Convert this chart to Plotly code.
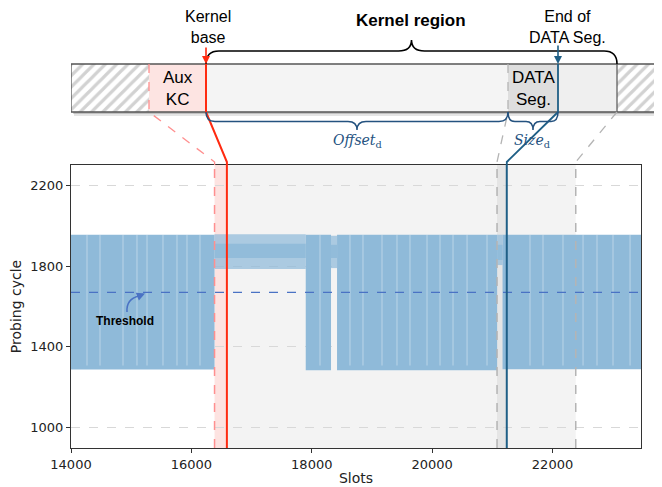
import plotly.graph_objects as go

# ---------------- data ----------------
x_min, x_max = 14000, 23470
y_min, y_max = 900, 2300
x_ticks = [14000, 16000, 18000, 20000, 22000]
y_ticks = [1000, 1400, 1800, 2200]

# segments where the probe swings between the low and the high level
swing_start = [14000, 17900, 18420, 21170]
swing_end = [16385, 18320, 21080, 23470]
swing_low = [1288, 1285, 1285, 1290]
swing_high = [1955, 1955, 1955, 1955]

# segments where the probe stays on the high level
high_start = [16385, 18320, 21080]
high_end = [17900, 18420, 21170]
high_low = [1785, 1790, 1805]
high_high = [1958, 1950, 1955]
core_low = [1840, 1840, 1830]
core_high = [1910, 1905, 1905]

# slots where the trace holds high for a while (light streaks in the band)
hold_slots = [14266, 14482, 14864, 15096, 15263, 15528, 15761, 15927, 16143,
              18137, 18635, 18851, 19167, 19416, 19632, 19915, 20131, 20347,
              20580, 20912, 21626, 21842, 22174, 22507, 22739, 23005, 23288]

threshold = 1670

aux_kc_start = 16385
kernel_base = 16590
data_seg_start = 21078
data_seg_end = 21240
kernel_end = 22386

# ---------------- styling / geometry ----------------
OFF = 8                      # page body margin
W, H = 662 - OFF, 487 - OFF
ML, MB = 71 - OFF, 39
PLOT_W, PLOT_H = 570, 283
PAPER_W, PAPER_H = W - ML, H - MB
PLOT_LEFT = ML + OFF         # screen pixel coords
PLOT_TOP = PAPER_H + OFF - PLOT_H

BAND = '#8fbad9'
RED = '#ff2a10'
LRED = '#ff8f8f'
GRAY = '#b4b4b4'
BLUE = '#1f5f86'
DBLUE = '#24527f'
TEXT_FONT = 'Liberation Sans, Arial, sans-serif'
MPL_FONT = 'DejaVu Sans, sans-serif'


def px(v):
    return PLOT_LEFT + (v - x_min) / (x_max - x_min) * PLOT_W


fig = go.Figure()

# band traces (main axes)
for s, e, lo, hi in zip(high_start, high_end, high_low, high_high):
    fig.add_trace(go.Scatter(x=[s, e, e, s, s], y=[lo, lo, hi, hi, lo], mode='lines',
                             fill='toself', fillcolor='rgba(143,186,217,0.72)',
                             line=dict(width=0), hoverinfo='skip'))
for s, e, lo, hi in zip(high_start, high_end, core_low, core_high):
    fig.add_trace(go.Scatter(x=[s, e, e, s, s], y=[lo, lo, hi, hi, lo], mode='lines',
                             fill='toself', fillcolor='rgba(143,186,217,0.9)',
                             line=dict(width=0), hoverinfo='skip'))
for s, e, lo, hi in zip(swing_start, swing_end, swing_low, swing_high):
    fig.add_trace(go.Scatter(x=[s, e, e, s, s], y=[lo, lo, hi, hi, lo], mode='lines',
                             fill='toself', fillcolor=BAND,
                             line=dict(width=0), hoverinfo='skip'))
hx, hy = [], []
for h in hold_slots:
    hx += [h, h, None]
    hy += [swing_low[0] + 20, swing_high[0], None]
fig.add_trace(go.Scatter(x=hx, y=hy, mode='lines',
                         line=dict(color='rgba(255,255,255,0.4)', width=1), hoverinfo='skip'))

# threshold
fig.add_trace(go.Scatter(x=[x_min, x_max], y=[threshold, threshold], mode='lines',
                         line=dict(color='#4a72c4', width=1.4, dash='dash'), hoverinfo='skip'))

# hatched parts of the memory bar (pixel axes x2/y2, screen coordinates)
BAR_TOP, BAR_BOT = 64, 112
bar_l, aux_l, kb_l, ds_l, de_l, ke_l, bar_r = 71, 149, 206, 508, 558, 617, 656
for b0, b1 in [(bar_l, aux_l), (ke_l, bar_r)]:
    fig.add_trace(go.Bar(x=[b1 - b0], base=[b0], y=[(BAR_TOP + BAR_BOT) / 2],
                         width=[BAR_BOT - BAR_TOP], orientation='h',
                         xaxis='x2', yaxis='y2', hoverinfo='skip',
                         marker=dict(color='white', line=dict(width=0),
                                     pattern=dict(shape='/', fgcolor='#a6a6a6', bgcolor='white',
                                                  size=8, solidity=0.4))))

shapes = []
# main-plot shading
shapes.append(dict(type='rect', xref='x', yref='y', x0=kernel_base, x1=kernel_end, y0=y_min, y1=y_max,
                   fillcolor='#f3f3f3', line=dict(width=0), layer='below'))
shapes.append(dict(type='rect', xref='x', yref='y', x0=aux_kc_start, x1=kernel_base, y0=y_min, y1=y_max,
                   fillcolor='#fde3e1', line=dict(width=0), layer='below'))
shapes.append(dict(type='rect', xref='x', yref='y', x0=data_seg_start, x1=data_seg_end, y0=y_min, y1=y_max,
                   fillcolor='#e5e5e5', line=dict(width=0), layer='below'))
# main-plot vertical markers
shapes.append(dict(type='line', xref='x', yref='y', x0=aux_kc_start, x1=aux_kc_start, y0=y_min, y1=y_max,
                   line=dict(color=LRED, width=1.5, dash='dash')))
shapes.append(dict(type='line', xref='x', yref='y', x0=kernel_base, x1=kernel_base, y0=y_min, y1=y_max,
                   line=dict(color=RED, width=2)))
shapes.append(dict(type='line', xref='x', yref='y', x0=data_seg_start, x1=data_seg_start, y0=y_min, y1=y_max,
                   line=dict(color=GRAY, width=1.5, dash='dash')))
shapes.append(dict(type='line', xref='x', yref='y', x0=data_seg_end, x1=data_seg_end, y0=y_min, y1=y_max,
                   line=dict(color=BLUE, width=2)))
shapes.append(dict(type='line', xref='x', yref='y', x0=kernel_end, x1=kernel_end, y0=y_min, y1=y_max,
                   line=dict(color=GRAY, width=1.5, dash='dash')))

# memory bar (pixel axes)
def rect2(x0, x1, y0, y1, fill, line=None, layer='below'):
    return dict(type='rect', xref='x2', yref='y2', x0=x0, x1=x1, y0=y0, y1=y1,
                fillcolor=fill, line=line or dict(width=0), layer=layer)

shapes.append(rect2(bar_l + 3, bar_r + 4, BAR_TOP + 4, BAR_BOT + 4, 'rgba(0,0,0,0.10)'))
shapes.append(rect2(bar_l + 2, bar_r + 2, BAR_TOP + 2, BAR_BOT + 2, 'rgba(0,0,0,0.16)'))
shapes.append(rect2(aux_l, kb_l, BAR_TOP, BAR_BOT, '#fde4e2'))
shapes.append(rect2(kb_l, ds_l, BAR_TOP, BAR_BOT, '#f4f4f4'))
shapes.append(rect2(ds_l, de_l, BAR_TOP, BAR_BOT, '#dedede'))
shapes.append(rect2(de_l, ke_l, BAR_TOP, BAR_BOT, '#efefef'))
shapes.append(rect2(bar_l, bar_r, BAR_TOP, BAR_BOT, 'rgba(0,0,0,0)',
                    line=dict(color='#555555', width=1.3), layer='above'))
shapes.append(dict(type='line', xref='x2', yref='y2', x0=ke_l, x1=ke_l, y0=BAR_TOP, y1=BAR_BOT,
                   line=dict(color='#555555', width=1.2)))

def path2(d, color, width, dash='solid'):
    return dict(type='path', xref='x2', yref='y2', path=d,
                line=dict(color=color, width=width, dash=dash))

# connectors from the bar to the plot
pa, pk, pds, pde, pke = px(aux_kc_start), px(kernel_base), px(data_seg_start), px(data_seg_end), px(kernel_end)
shapes.append(path2(f'M{aux_l},{BAR_TOP} L{aux_l},{BAR_BOT} L{pa:.1f},{PLOT_TOP - 3} L{pa:.1f},{PLOT_TOP}',
                    LRED, 1.3, 'dash'))
shapes.append(path2(f'M{kb_l},{BAR_TOP} L{kb_l},{BAR_BOT} L{pk:.1f},{PLOT_TOP - 3} L{pk:.1f},{PLOT_TOP}',
                    RED, 2))
shapes.append(path2(f'M{ds_l},{BAR_TOP} L{ds_l},{BAR_BOT} L{pds:.1f},{PLOT_TOP - 3} L{pds:.1f},{PLOT_TOP}',
                    GRAY, 1.3, 'dash'))
shapes.append(path2(f'M{de_l},{BAR_TOP} L{de_l},{BAR_BOT} L{pde:.1f},{PLOT_TOP - 3} L{pde:.1f},{PLOT_TOP}',
                    BLUE, 1.8))
shapes.append(path2(f'M{ke_l},{BAR_BOT} L{pke:.1f},{PLOT_TOP - 3} L{pke:.1f},{PLOT_TOP}',
                    GRAY, 1.3, 'dash'))

# braces
def brace_up(x0, x1, yb, yl, ytip, r=12):
    xm = (x0 + x1) / 2
    return (f'M{x0},{yb} Q{x0},{yl} {x0 + r},{yl} L{xm - r},{yl} Q{xm},{yl} {xm},{ytip} '
            f'Q{xm},{yl} {xm + r},{yl} L{x1 - r},{yl} Q{x1},{yl} {x1},{yb}')

shapes.append(path2(brace_up(kb_l, ke_l, BAR_TOP, 51, 40, 13), 'black', 1.6))
shapes.append(path2(brace_up(kb_l, ds_l, BAR_BOT, 121.5, 130, 9), DBLUE, 1.5))
shapes.append(path2(brace_up(ds_l, de_l, BAR_BOT, 121.5, 130, 7), DBLUE, 1.5))

# threshold arrow curve
shapes.append(path2('M127,312 Q126,299 139,296', '#4a72c4', 1.5))

annotations = [
    dict(xref='x2', yref='y2', x=208, y=27, text='Kernel<br>base', showarrow=False,
         font=dict(family=TEXT_FONT, size=16, color='black')),
    dict(xref='x2', yref='y2', x=411, y=20, text='<b>Kernel region</b>', showarrow=False,
         font=dict(family=TEXT_FONT, size=17, color='black')),
    dict(xref='x2', yref='y2', x=567, y=27, text='End of<br>DATA Seg.', showarrow=False,
         font=dict(family=TEXT_FONT, size=16, color='black')),
    dict(xref='x2', yref='y2', x=177.5, y=88, text='Aux<br>KC', showarrow=False,
         font=dict(family=TEXT_FONT, size=17, color='black')),
    dict(xref='x2', yref='y2', x=533, y=88, text='DATA<br>Seg.', showarrow=False,
         font=dict(family=TEXT_FONT, size=17, color='black')),
    dict(xref='x2', yref='y2', x=357, y=141, text='<i>Offset</i><sub>d</sub>', showarrow=False,
         font=dict(family='DejaVu Serif, serif', size=14, color=DBLUE)),
    dict(xref='x2', yref='y2', x=532, y=141, text='<i>Size</i><sub>d</sub>', showarrow=False,
         font=dict(family='DejaVu Serif, serif', size=14, color=DBLUE)),
    dict(xref='x2', yref='y2', x=125, y=321, text='<b>Threshold</b>', showarrow=False,
         font=dict(family=TEXT_FONT, size=12, color='black')),
    # arrow heads
    dict(xref='x2', yref='y2', x=kb_l, y=BAR_TOP, axref='x2', ayref='y2', ax=kb_l, ay=46,
         text='', showarrow=True, arrowhead=2, arrowsize=1, arrowwidth=1.6, arrowcolor=RED),
    dict(xref='x2', yref='y2', x=de_l, y=BAR_TOP, axref='x2', ayref='y2', ax=de_l, ay=44,
         text='', showarrow=True, arrowhead=2, arrowsize=1, arrowwidth=1.6, arrowcolor=BLUE),
    dict(xref='x2', yref='y2', x=145, y=293.5, axref='x2', ayref='y2', ax=138, ay=296.3,
         text='', showarrow=True, arrowhead=2, arrowsize=1.1, arrowwidth=1.5, arrowcolor='#4a72c4'),
]

axis_common = dict(ticks='outside', ticklen=4, tickwidth=1, tickcolor='#333',
                   showline=True, mirror=True, linecolor='#333', linewidth=1.2, zeroline=False,
                   automargin=False,
                   tickfont=dict(family=MPL_FONT, size=13, color='#222'))

fig.update_layout(
    width=W, height=H, margin=dict(l=ML, r=0, t=0, b=MB),
    paper_bgcolor='white', plot_bgcolor='rgba(0,0,0,0)', showlegend=False,
    xaxis=dict(domain=[0, PLOT_W / PAPER_W], range=[x_min, x_max], tickvals=x_ticks,
               ticktext=[str(v) for v in x_ticks], showgrid=False, anchor='y',
               title=dict(text='Slots', font=dict(family=MPL_FONT, size=14, color='#222'), standoff=2),
               **axis_common),
    yaxis=dict(domain=[0, PLOT_H / PAPER_H], range=[y_min, y_max], tickvals=y_ticks,
               ticktext=[str(v) for v in y_ticks],
               showgrid=True, gridcolor='#d8d8d8', griddash='dash', gridwidth=0.8, anchor='x',
               title=dict(text='Probing cycle', font=dict(family=MPL_FONT, size=14, color='#222'), standoff=8),
               **axis_common),
    xaxis2=dict(domain=[0, 1], range=[PLOT_LEFT, W + OFF], visible=False, anchor='y2', fixedrange=True),
    yaxis2=dict(domain=[0, 1], range=[PAPER_H + OFF, OFF], visible=False, anchor='x2', fixedrange=True),
    shapes=shapes, annotations=annotations, barmode='overlay',
)

fig.write_html('out.html')
